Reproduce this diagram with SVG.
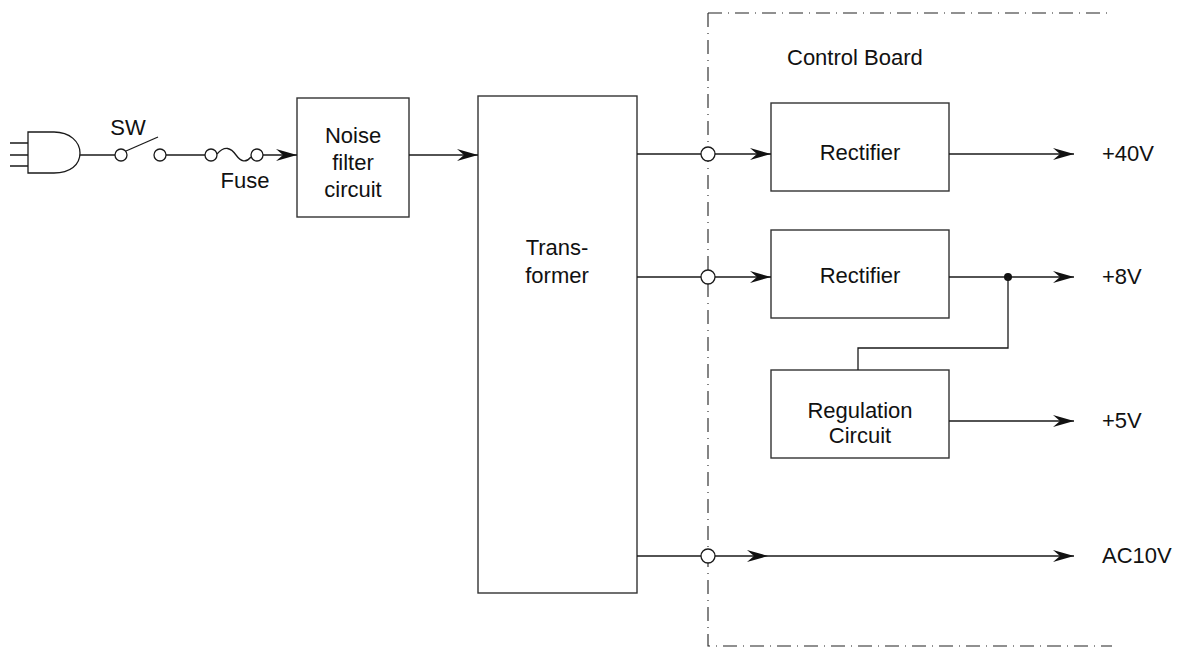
<svg xmlns="http://www.w3.org/2000/svg" width="1182" height="648" viewBox="0 0 1182 648">
<style>
  .ln { fill: none; stroke: #1a1a1a; stroke-width: 1.3; }
  .box { fill: #fff; stroke: #333; stroke-width: 1.4; }
  .t { font-family: "Liberation Sans", Arial, sans-serif; font-size: 22px; fill: #111; }
  .c { text-anchor: middle; }
  .ring { fill: #fff; stroke: #1a1a1a; stroke-width: 1.3; }
  .board { fill: none; stroke: #222; stroke-width: 1.1; stroke-dasharray: 14 6 1 6; }
</style>
<defs>
  <marker id="arr" markerUnits="userSpaceOnUse" markerWidth="24" markerHeight="14" viewBox="-22 -7 24 14" refX="0" refY="0" orient="auto">
    <path d="M0,0 L-21,-6 L-14,0 L-21,6 Z" fill="#111"/>
  </marker>
</defs>
<rect width="1182" height="648" fill="#fff"/>

<g id="control-board">
  <path class="board" d="M708,13 H1112 M708,13 V646 H1112"/>
  <text class="t" x="787" y="65">Control Board</text>
</g>

<g id="plug">
  <path class="ln" d="M10,143 H28 M10,155 H28 M10,166 H28"/>
  <path class="ln" d="M28,132 H54 C70,132 80,142 80,153 C80,165 70,173 54,173 H28 Z"/>
</g>

<g id="switch">
  <circle class="ring" cx="121" cy="155" r="6"/>
  <circle class="ring" cx="160" cy="155" r="6"/>
  <path class="ln" d="M126,151 L158,137"/>
  <text class="t c" x="128" y="135">SW</text>
</g>

<g id="fuse">
  <circle class="ring" cx="211" cy="155" r="6"/>
  <circle class="ring" cx="257" cy="155" r="6"/>
  <path class="ln" d="M217,154 C225,145 231,148 236,155 C241,162 246,163 251,157"/>
  <text class="t c" x="245" y="188">Fuse</text>
</g>

<g id="noise-filter">
  <rect class="box" x="297" y="98" width="112" height="119"/>
  <text class="t c" x="353" y="143">Noise</text>
  <text class="t c" x="353" y="170">filter</text>
  <text class="t c" x="353" y="197">circuit</text>
</g>

<g id="transformer">
  <rect class="box" x="478" y="96" width="159" height="497"/>
  <text class="t c" x="557" y="255">Trans-</text>
  <text class="t c" x="557" y="283">former</text>
</g>

<g id="rectifier-40">
  <rect class="box" x="771" y="103" width="178" height="88"/>
  <text class="t c" x="860" y="160">Rectifier</text>
</g>

<g id="rectifier-8">
  <rect class="box" x="771" y="230" width="178" height="88"/>
  <text class="t c" x="860" y="283">Rectifier</text>
</g>

<g id="regulation">
  <rect class="box" x="771" y="370" width="178" height="88"/>
  <text class="t c" x="860" y="418">Regulation</text>
  <text class="t c" x="860" y="443">Circuit</text>
</g>

<g id="connectors">
  <path class="ln" d="M80,155 H115"/>
  <path class="ln" d="M166,155 H205"/>
  <path class="ln" d="M263,155 H297" marker-end="url(#arr)"/>
  <path class="ln" d="M409,155 H478" marker-end="url(#arr)"/>

  <path class="ln" d="M637,154 H701"/>
  <path class="ln" d="M715,154 H771" marker-end="url(#arr)"/>
  <path class="ln" d="M637,277 H701"/>
  <path class="ln" d="M715,277 H771" marker-end="url(#arr)"/>
  <path class="ln" d="M637,556 H701"/>
  <path class="ln" d="M715,556 H768" marker-end="url(#arr)"/>
  <path class="ln" d="M768,556 H1074" marker-end="url(#arr)"/>

  <circle class="ring" cx="708" cy="154" r="7"/>
  <circle class="ring" cx="708" cy="277" r="7"/>
  <circle class="ring" cx="708" cy="556" r="7"/>

  <path class="ln" d="M949,154 H1074" marker-end="url(#arr)"/>
  <path class="ln" d="M949,277 H1074" marker-end="url(#arr)"/>
  <circle cx="1008" cy="277" r="4" fill="#111"/>
  <path class="ln" d="M1008,277 V348 H858 V370"/>
  <path class="ln" d="M949,421 H1074" marker-end="url(#arr)"/>
</g>

<g id="output-labels">
  <text class="t" x="1102" y="161">+40V</text>
  <text class="t" x="1102" y="284">+8V</text>
  <text class="t" x="1102" y="428">+5V</text>
  <text class="t" x="1102" y="563">AC10V</text>
</g>
</svg>
